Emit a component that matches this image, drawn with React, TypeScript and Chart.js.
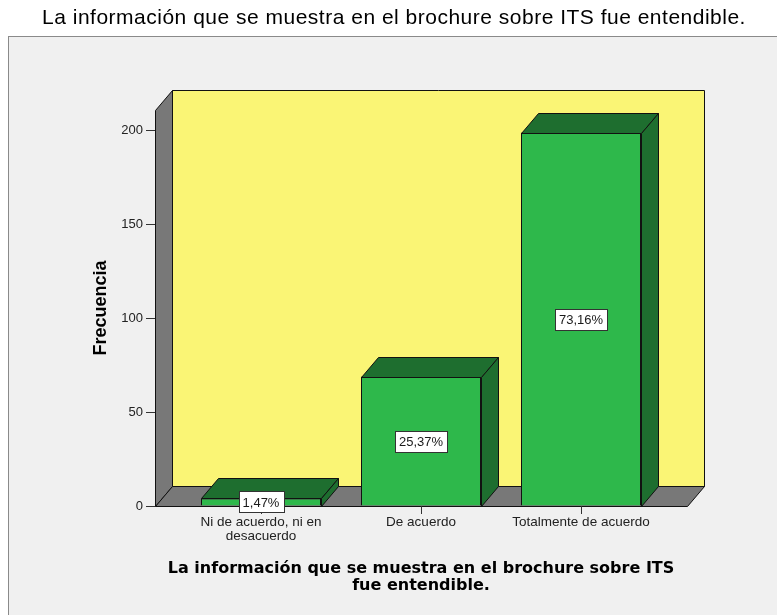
import React, { useEffect, useRef } from 'react';
import { Chart, registerables } from 'chart.js';

Chart.register(...registerables);

// ---- data ----
const categories: string[][] = [
  ['Ni de acuerdo, ni en', 'desacuerdo'],
  ['De acuerdo'],
  ['Totalmente de acuerdo'],
];
const frequencies: number[] = [4, 69, 199];
const yTickValues: number[] = [0, 50, 100, 150, 200];
const chartTitle = 'La información que se muestra en el brochure sobre ITS fue entendible.';
const xAxisTitle: string[] = ['La información que se muestra en el brochure sobre ITS', 'fue entendible.'];
const yAxisTitle = 'Frecuencia';

// ---- style ----
const W = 777;
const H = 615;
const DX = 17;
const DY = 20;
const YELLOW = '#faf575';
const GRAY = '#787878';
const GREEN = '#2eb84b';
const DARK = '#1e6e2f';
const EDGE = '#111111';
const SANS = '"Liberation Sans", Arial, sans-serif';

function poly(ctx: CanvasRenderingContext2D, pts: number[][], fill: string) {
  ctx.beginPath();
  ctx.moveTo(pts[0][0], pts[0][1]);
  for (let i = 1; i < pts.length; i++) ctx.lineTo(pts[i][0], pts[i][1]);
  ctx.closePath();
  ctx.fillStyle = fill;
  ctx.fill();
  ctx.strokeStyle = EDGE;
  ctx.lineWidth = 1;
  ctx.stroke();
}

const threeD = {
  id: 'threeD',
  beforeDraw(chart: any) {
    const { ctx, chartArea: a } = chart;
    ctx.save();
    ctx.fillStyle = '#ffffff';
    ctx.fillRect(0, 0, chart.width, chart.height);
    ctx.fillStyle = '#f0f0f0';
    ctx.fillRect(8.5, 36.5, chart.width, chart.height);
    ctx.strokeStyle = '#8a8a8a';
    ctx.lineWidth = 1;
    ctx.strokeRect(8.5, 36.5, chart.width, chart.height);
    // chart title
    ctx.fillStyle = '#000000';
    ctx.font = '21px ' + SANS;
    (ctx as any).letterSpacing = '0.5px';
    ctx.textAlign = 'center';
    ctx.textBaseline = 'middle';
    ctx.fillText(chartTitle, 394, 18);
    (ctx as any).letterSpacing = '0px';
    const L = Math.round(a.left) + 0.5;
    const R = Math.round(a.right) + 0.5;
    const T = Math.round(a.top) + 0.5;
    const B = Math.round(a.bottom) + 0.5;
    poly(ctx, [[L + DX, T - DY], [R + DX, T - DY], [R + DX, B - DY], [L + DX, B - DY]], YELLOW);
    poly(ctx, [[L, B], [L, T], [L + DX, T - DY], [L + DX, B - DY]], GRAY);
    poly(ctx, [[L, B], [R, B], [R + DX, B - DY], [L + DX, B - DY]], GRAY);
    ctx.restore();
  },
  afterDatasetsDraw(chart: any) {
    const { ctx } = chart;
    const meta = chart.getDatasetMeta(0);
    const total = frequencies.reduce((s, v) => s + v, 0);
    ctx.save();
    meta.data.forEach((bar: any) => {
      const p = bar.getProps(['x', 'y', 'base', 'width'], true);
      const x0 = Math.round(p.x - p.width / 2) + 0.5;
      const x1 = Math.round(p.x + p.width / 2) + 0.5;
      const yt = Math.round(p.y) + 0.5;
      const yb = Math.round(p.base) + 0.5;
      poly(ctx, [[x0, yt], [x1, yt], [x1 + DX, yt - DY], [x0 + DX, yt - DY]], DARK);
      poly(ctx, [[x1, yt], [x1, yb], [x1 + DX, yb - DY], [x1 + DX, yt - DY]], DARK);
    });
    meta.data.forEach((bar: any, i: number) => {
      const p = bar.getProps(['x', 'y', 'base', 'width'], true);
      const pct = ((frequencies[i] / total) * 100).toFixed(2).replace('.', ',') + '%';
      ctx.font = '13px ' + SANS;
      const tw = ctx.measureText(pct).width;
      const bw = Math.round(tw + 8);
      const bh = 21;
      const cx = p.x;
      const cy = (p.y + p.base) / 2;
      const bx = Math.round(cx - bw / 2) + 0.5;
      const by = Math.round(cy - bh / 2) + 0.5;
      ctx.fillStyle = '#ffffff';
      ctx.fillRect(bx, by, bw, bh);
      ctx.strokeStyle = '#333333';
      ctx.lineWidth = 1;
      ctx.strokeRect(bx, by, bw, bh);
      ctx.fillStyle = '#1a1a1a';
      ctx.textAlign = 'center';
      ctx.textBaseline = 'middle';
      ctx.fillText(pct, cx, cy + 1);
    });
    ctx.restore();
  },
};

export default function App() {
  const ref = useRef<HTMLCanvasElement | null>(null);

  useEffect(() => {
    document.body.style.margin = '0';
    const canvas = ref.current;
    if (!canvas) return;
    const chart = new Chart(canvas, {
      type: 'bar',
      data: {
        datasets: [
          {
            data: frequencies.map((v, i) => ({ x: i + 1, y: v })),
            backgroundColor: GREEN,
            borderColor: EDGE,
            borderWidth: 1,
            barPercentage: 0.75,
            categoryPercentage: 1,
          },
        ],
      },
      options: {
        responsive: false,
        animation: false,
        devicePixelRatio: 1,
        layout: { padding: { left: 0, right: 90, top: 110, bottom: 0 } },
        plugins: {
          legend: { display: false },
          tooltip: { enabled: false },
          title: { display: false },
        },
        scales: {
          x: {
            type: 'linear',
            offset: false,
            min: 0.3375,
            max: 3.6625,
            afterBuildTicks: (s: any) => {
              s.ticks = categories.map((_, i) => ({ value: i + 1 }));
            },
            afterFit: (s: any) => {
              s.height = 109;
            },
            ticks: {
              callback: (v: any) => categories[Math.round(v) - 1],
              autoSkip: false,
              maxRotation: 0,
              minRotation: 0,
              color: '#222222',
              padding: 1,
              font: { family: SANS, size: 13.5, lineHeight: 1.05 },
            },
            grid: {
              display: true,
              offset: false,
              drawOnChartArea: false,
              drawTicks: true,
              tickLength: 8,
              tickColor: '#333333',
            },
            border: { display: false },
            title: {
              display: true,
              text: xAxisTitle,
              color: '#000000',
              font: { family: '"DejaVu Sans", sans-serif', size: 16, weight: 'bold', lineHeight: 17 / 16 },
              padding: { top: 0, bottom: 20.5 },
            },
          },
          y: {
            min: 0,
            max: 211,
            afterBuildTicks: (s: any) => {
              s.ticks = yTickValues.map((v) => ({ value: v }));
            },
            afterFit: (s: any) => {
              s.width = 155;
            },
            ticks: {
              color: '#222222',
              padding: 3,
              font: { family: SANS, size: 13 },
            },
            grid: {
              display: true,
              drawOnChartArea: false,
              drawTicks: true,
              tickLength: 9,
              tickColor: '#333333',
            },
            border: { display: false },
            title: {
              display: true,
              text: yAxisTitle,
              color: '#000000',
              font: { family: SANS, size: 18, weight: 'bold', lineHeight: 1.2 },
              padding: { top: 90, bottom: 0 },
            },
          },
        },
      },
      plugins: [threeD],
    } as any);
    return () => chart.destroy();
  }, []);

  return (
    <div style={{ width: W, height: H }}>
      <canvas ref={ref} width={W} height={H} style={{ display: 'block', width: W, height: H }} />
    </div>
  );
}
